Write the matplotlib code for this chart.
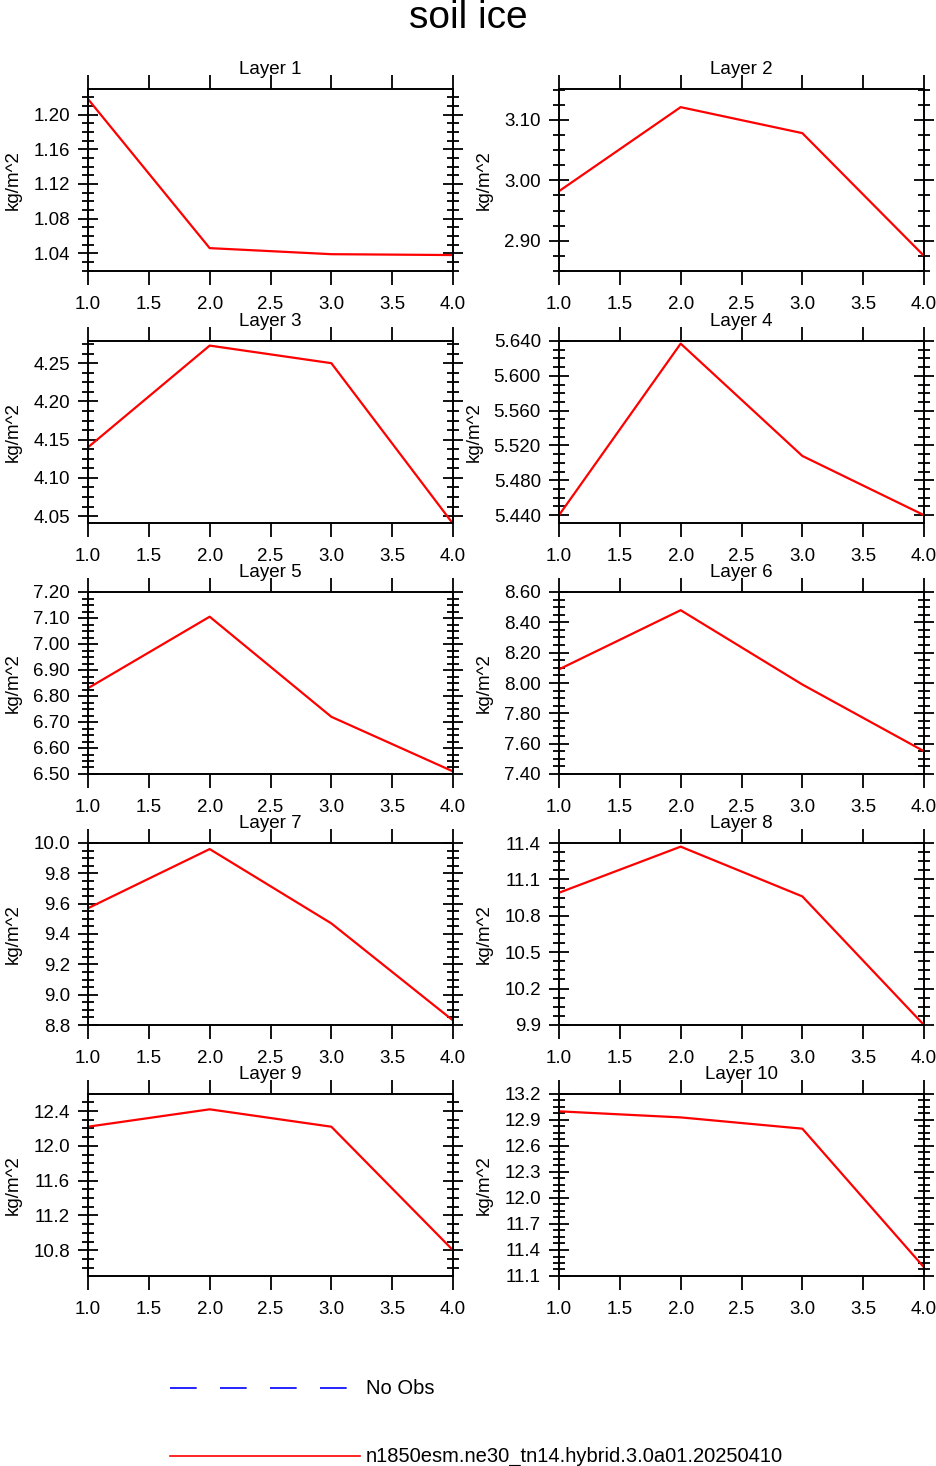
import matplotlib
matplotlib.use("Agg")
import matplotlib.pyplot as plt
from matplotlib.lines import Line2D
from matplotlib.ticker import MultipleLocator, AutoMinorLocator

plt.rcParams['font.family'] = ['Liberation Sans', 'DejaVu Sans']

# Данные по слоям
years = [1.0, 2.0, 3.0, 4.0]
layer_vals = [
    [1.218, 1.046, 1.039, 1.038],
    [2.982, 3.121, 3.078, 2.875],
    [4.140, 4.273, 4.250, 4.040],
    [5.440, 5.637, 5.508, 5.440],
    [6.830, 7.105, 6.720, 6.510],
    [8.090, 8.480, 7.990, 7.550],
    [9.570, 9.960, 9.470, 8.830],
    [10.99, 11.37, 10.96, 9.900],
    [12.22, 12.42, 12.22, 10.80],
]
layer_vals.append([13.00, 12.93, 12.80, 11.20])
ylims = [(1.0196, 1.2296), (2.850, 3.151), (4.041, 4.279), (5.431, 5.640),
         (6.50, 7.20), (7.40, 8.60), (8.8, 10.0), (9.9, 11.4),
         (10.504, 12.596), (11.1, 13.2)]
ysteps = [0.04, 0.10, 0.05, 0.04, 0.10, 0.20, 0.2, 0.3, 0.4, 0.3]
yfmt = ["%.2f", "%.2f", "%.2f", "%.3f", "%.2f", "%.2f", "%.1f", "%.1f", "%.1f", "%.1f"]

W, H = 936, 1466
fig = plt.figure(figsize=(W / 100, H / 100), dpi=100)
fig.text(0.5, 1 - 18 / H, "soil ice", ha="center", va="center", fontsize=28)

lefts = [88, 559]
tops = [89, 341, 592, 843, 1094]
pw, ph = 365, 182

for i in range(10):
    r, c = divmod(i, 2)
    ax = fig.add_axes([lefts[c] / W, 1 - (tops[r] + ph) / H, pw / W, ph / H])
    ax.plot(years, layer_vals[i], color="red", lw=1.6)
    ax.set_xlim(1.0, 4.0)
    ax.set_ylim(*ylims[i])
    ax.xaxis.set_major_locator(MultipleLocator(0.5))
    ax.yaxis.set_major_locator(MultipleLocator(ysteps[i]))
    ax.yaxis.set_minor_locator(AutoMinorLocator(4))
    ax.yaxis.set_major_formatter(plt.FormatStrFormatter(yfmt[i]))
    ax.xaxis.set_major_formatter(plt.FormatStrFormatter("%.1f"))
    ax.tick_params(axis="x", which="major", direction="out", top=True, length=10,
                   width=1.3, labelsize=13.5, pad=8)
    ax.tick_params(axis="y", which="both", direction="inout", right=True,
                   width=1.3, labelsize=13.5, pad=6)
    ax.tick_params(axis="y", which="major", length=14)
    ax.tick_params(axis="y", which="minor", length=8)
    for s in ax.spines.values():
        s.set_linewidth(1.4)
    ax.set_title("Layer %d" % (i + 1), fontsize=13.5, pad=11)
    ax.set_ylabel("kg/m^2", fontsize=13.5, labelpad=8)

# Легенда внизу
fig.add_artist(Line2D([170 / W, 360 / W], [1 - 1388 / H] * 2, color="blue", lw=1.2,
                      dashes=(16, 14)))
fig.text(366 / W, 1 - 1388 / H, "No Obs", va="center", fontsize=14.5)
fig.add_artist(Line2D([170 / W, 360 / W], [1 - 1456 / H] * 2, color="red", lw=1.2))
fig.text(366 / W, 1 - 1456 / H, "n1850esm.ne30_tn14.hybrid.3.0a01.20250410", va="center", fontsize=14.5)

fig.savefig("out.png", dpi=100)
